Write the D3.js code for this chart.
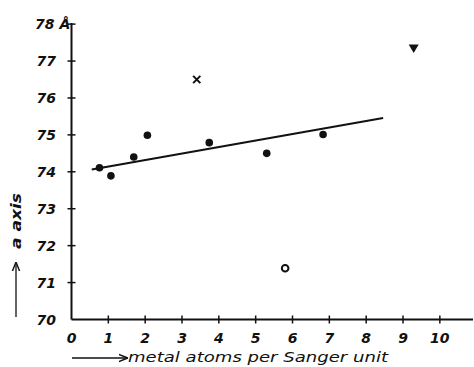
<!DOCTYPE html>
<html><head><meta charset="utf-8">
<script src="https://cdn.jsdelivr.net/npm/d3@7"></script>
<style>body{margin:0;background:#fff}svg{display:block}</style>
</head><body>
<svg id="c" width="474" height="367"></svg>
<script>
// data
const xTicks = [0,1,2,3,4,5,6,7,8,9,10];
const yTicks = [70,71,72,73,74,75,76,77,78];
const dotX = [0.76, 1.07, 1.69, 2.06, 3.74, 5.30, 6.83];
const dotY = [74.11, 73.89, 74.40, 74.99, 74.79, 74.50, 75.01];
const crossX = [3.40], crossY = [76.50];
const triX = [9.29], triY = [77.34];
const openX = [5.80], openY = [71.39];
const fitX = [0.55, 8.46], fitY = [74.06, 75.46];
const xTitle = "metal atoms per Sanger unit";
const yTitle = "a axis";

const svg = d3.select("#c");
const x = d3.scaleLinear().domain([0, 10.9]).range([71.5, 473]);
const y = d3.scaleLinear().domain([70, 78.03]).range([319.5, 23]);
const font = "'DejaVu Sans', sans-serif";
const ink = "#111";

// axes lines
svg.append("line").attr("x1", x(0)).attr("x2", x(10.9)).attr("y1", y(70)).attr("y2", y(70))
  .attr("stroke", ink).attr("stroke-width", 2);
svg.append("line").attr("x1", x(0)).attr("x2", x(0)).attr("y1", y(70)).attr("y2", y(78.03))
  .attr("stroke", ink).attr("stroke-width", 2);

// x ticks
const gx = svg.append("g");
xTicks.filter(d => d > 0).forEach(d => {
  gx.append("line").attr("x1", x(d)).attr("x2", x(d)).attr("y1", y(70)-4).attr("y2", y(70)+4)
    .attr("stroke", ink).attr("stroke-width", 1.5);
});
xTicks.forEach(d => {
  gx.append("text").attr("x", x(d)).attr("y", y(70)+23).attr("text-anchor", "middle")
    .attr("font-family", font).attr("font-style", "italic").attr("font-weight", "bold")
    .attr("font-size", 14).attr("fill", ink).text(d);
});
// y ticks
const gy = svg.append("g");
yTicks.filter(d => d > 70).forEach(d => {
  gy.append("line").attr("x1", x(0)-4).attr("x2", x(0)+4).attr("y1", y(d)).attr("y2", y(d))
    .attr("stroke", ink).attr("stroke-width", 1.5);
});
yTicks.forEach(d => {
  const t = gy.append("text").attr("x", 56).attr("y", y(d)+5).attr("text-anchor", "end")
    .attr("font-family", font).attr("font-style", "italic").attr("font-weight", "bold")
    .attr("font-size", 14).attr("fill", ink).text(d);
  if (d === 78) {
    t.attr("text-anchor", "start").attr("x", 35);
    t.append("tspan").attr("dx", 5).text("Å");
  }
});

// fit line
svg.append("line").attr("x1", x(fitX[0])).attr("y1", y(fitY[0])).attr("x2", x(fitX[1])).attr("y2", y(fitY[1]))
  .attr("stroke", ink).attr("stroke-width", 2);

// filled dots
svg.selectAll(".dot").data(dotX.map((v,i)=>[v,dotY[i]])).enter().append("circle")
  .attr("cx", d => x(d[0])).attr("cy", d => y(d[1])).attr("r", 3.8).attr("fill", ink);
// open circle
svg.selectAll(".open").data(openX.map((v,i)=>[v,openY[i]])).enter().append("circle")
  .attr("cx", d => x(d[0])).attr("cy", d => y(d[1])).attr("r", 3.3).attr("fill", "#fff")
  .attr("stroke", ink).attr("stroke-width", 2);
// cross
svg.selectAll(".cross").data(crossX.map((v,i)=>[v,crossY[i]])).enter().append("path")
  .attr("d", d => { const cx = x(d[0]), cy = y(d[1]), s = 3.6;
    return `M${cx-s},${cy-s}L${cx+s},${cy+s}M${cx-s},${cy+s}L${cx+s},${cy-s}`; })
  .attr("stroke", ink).attr("stroke-width", 2).attr("fill", "none");
// triangle down
svg.selectAll(".tri").data(triX.map((v,i)=>[v,triY[i]])).enter().append("path")
  .attr("d", d => { const cx = x(d[0]), cy = y(d[1]);
    return `M${cx-5},${cy-4}L${cx+5},${cy-4}L${cx},${cy+4.5}Z`; })
  .attr("fill", ink);

// arrow marker
const defs = svg.append("defs");
defs.append("marker").attr("id", "arr").attr("viewBox", "0 0 10 10").attr("refX", 9).attr("refY", 5)
  .attr("markerWidth", 7).attr("markerHeight", 7).attr("orient", "auto")
  .append("path").attr("d", "M0,1L10,5L0,9").attr("fill", "none").attr("stroke", ink).attr("stroke-width", 1.6);

// x title
svg.append("line").attr("x1", 72).attr("x2", 127).attr("y1", 358).attr("y2", 358)
  .attr("stroke", ink).attr("stroke-width", 1.3).attr("marker-end", "url(#arr)");
svg.append("text").attr("x", 128).attr("y", 362).attr("font-family", font).attr("font-style", "italic")
  .attr("font-size", 14).attr("fill", ink).attr("textLength", 260).attr("lengthAdjust", "spacingAndGlyphs")
  .text(xTitle);

// y title
svg.append("line").attr("x1", 16).attr("x2", 16).attr("y1", 317).attr("y2", 263)
  .attr("stroke", ink).attr("stroke-width", 1.3).attr("marker-end", "url(#arr)");
svg.append("text").attr("transform", "translate(21,249) rotate(-90)").attr("font-family", font)
  .attr("font-style", "italic").attr("font-weight", "bold").attr("font-size", 14).attr("fill", ink)
  .attr("textLength", 56).attr("lengthAdjust", "spacingAndGlyphs").text(yTitle);
</script>
</body></html>
